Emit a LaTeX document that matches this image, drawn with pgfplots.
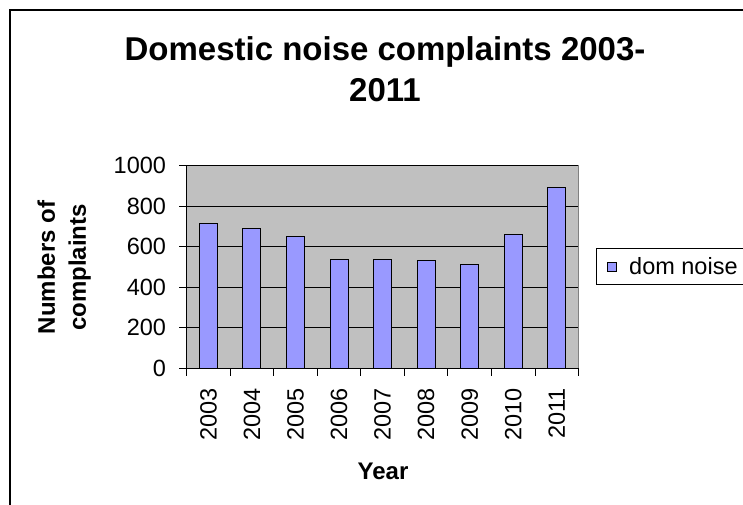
\documentclass[border=0pt]{standalone}
\usepackage{fontspec}
\setmainfont{Liberation Sans}
\usepackage{pgfplots}
\pgfplotsset{compat=1.18}
\definecolor{barblue}{HTML}{9999FF}
\definecolor{plotgray}{HTML}{C0C0C0}
\definecolor{framegray}{HTML}{808080}
\begin{document}
\begin{tikzpicture}
\useasboundingbox (0,0) rectangle (743bp,505bp);
\fill[white] (0,0) rectangle (743bp,505bp);
\draw[line width=1.2bp] (10bp,-2bp) -- (10bp,495bp) -- (760bp,495bp);
\node[font=\fontsize{33bp}{40bp}\selectfont\bfseries, anchor=base, inner sep=0pt] at (385bp,444.3bp) {Domestic noise complaints 2003-};
\node[font=\fontsize{33bp}{40bp}\selectfont\bfseries, anchor=base, inner sep=0pt] at (385bp,403.3bp) {2011};
\begin{axis}[
  at={(186.7bp,136.7bp)}, anchor=south west,
  scale only axis, width=391.8bp, height=202.6bp,
  xmin=-0.5, xmax=8.5, ymin=0, ymax=1000,
  ytick={0,200,...,1000},
  xtick={-0.5,0.5,...,8.5},
  xticklabels={,,,,,,,,,,},
  extra x ticks={0,1,2,3,4,5,6,7,8},
  extra x tick labels={2003,2004,2005,2006,2007,2008,2009,2010,2011},
  extra x tick style={tick style={draw=none}, xticklabel style={yshift=-12bp, rotate=90, anchor=east, inner sep=0pt}},
  tick align=outside,
  major tick length=7.5bp,
  tick style={black, line width=0.9bp},
  axis x line*=bottom, axis y line*=left,
  axis line style={black, line width=1bp, -},
  axis background/.style={fill=plotgray, draw=framegray, line width=1bp},
  ymajorgrids,
  major grid style={black, line width=0.8bp},
  tick label style={font=\fontsize{23.5bp}{28bp}\selectfont},
  yticklabel style={anchor=east, inner sep=0pt, xshift=-13bp},
  /pgf/number format/assume math mode=true,
  /pgf/number format/set thousands separator={},
  xlabel={Year},
  xlabel style={at={(axis description cs:0.501,-0.551)}, anchor=base, inner sep=0pt, font=\fontsize{24bp}{29bp}\selectfont\bfseries},
  ylabel={Numbers of\\complaints},
  ylabel style={at={(axis description cs:-0.313,0.4975)}, anchor=center, align=center, inner sep=0pt, font=\fontsize{24bp}{31bp}\selectfont\bfseries},
  legend style={at={(1.0447,0.5923)}, anchor=north west, draw=black, line width=0.8bp, fill=white, inner xsep=11bp, inner ysep=6.5bp, font=\fontsize{23.5bp}{28bp}\selectfont, cells={anchor=west}, /tikz/every odd column/.append style={column sep=10bp}},
  legend image code/.code={\draw[fill=barblue, draw=black, line width=0.8bp] (0bp,-4.5bp) rectangle (9bp,4.5bp);},
]
\addplot[ybar, bar width=18bp, fill=barblue, draw=black, line width=1bp] coordinates {
(0,714) (1,691) (2,651) (3,538) (4,538) (5,530) (6,513) (7,660) (8,891)
};
\addlegendentry{dom noise}
\end{axis}
\end{tikzpicture}
\end{document}
